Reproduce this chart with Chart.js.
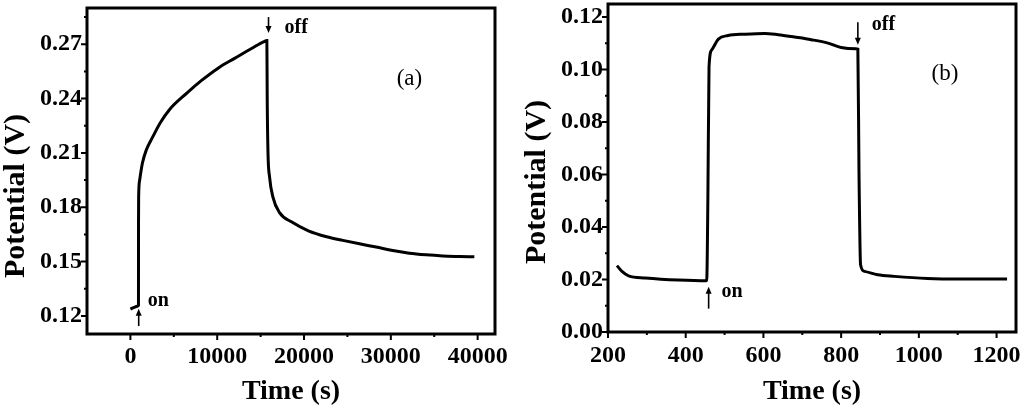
<!DOCTYPE html>
<html>
<head>
<meta charset="utf-8">
<script src="https://cdn.jsdelivr.net/npm/chart.js@4.4.1/dist/chart.umd.min.js"></script>
<style>
html, body { margin: 0; padding: 0; background: #fff; }
#wrap { position: relative; width: 1024px; height: 409px; }
canvas { position: absolute; top: 0; }
</style>
</head>
<body>
<div id="wrap">
  <canvas id="chartA" width="512" height="409" style="left:0"></canvas>
  <canvas id="chartB" width="512" height="409" style="left:512px"></canvas>
</div>
<script>
// panel (a) - long run, time in s, potential in V
const timeA = [0, 500, 900, 930, 935, 950, 1070, 1380, 1840, 2600, 3460, 4520, 6500, 8200, 10100, 12000, 14000, 15400, 15720,
  15760, 15850, 16030, 16410, 17180, 18600, 20500, 22600, 24470, 26390, 28310, 30220, 32140, 34060, 35970, 37890, 39620];
const potentialA = [0.1238, 0.1248, 0.1255, 0.1258, 0.1700, 0.1857, 0.1950, 0.2043, 0.2117, 0.2191, 0.2268, 0.2340, 0.2430, 0.2500, 0.2568, 0.2622, 0.2678, 0.2715, 0.2720,
  0.2400, 0.2100, 0.1968, 0.1857, 0.1770, 0.1718, 0.1670, 0.1637, 0.1617, 0.1598, 0.1580, 0.1561, 0.1546, 0.1537, 0.1531, 0.1528, 0.1526];

// panel (b) - short run
const timeB = [223, 236, 253, 296, 381, 454, 457, 460, 467, 484, 509, 552, 603, 638, 680, 723, 766, 800, 838, 843,
  846, 850, 860, 894, 937, 1022, 1108, 1227];
const potentialB = [0.0253, 0.0231, 0.0214, 0.0206, 0.0198, 0.0195, 0.0500, 0.1010, 0.1075, 0.1116, 0.1130, 0.1135, 0.1138, 0.1133, 0.1124, 0.1114, 0.1101, 0.1084, 0.1079, 0.1078,
  0.0600, 0.0256, 0.0231, 0.0218, 0.0212, 0.0204, 0.0202, 0.0202];

// tick labels
const xTicksA = [0, 10000, 20000, 30000, 40000];
const xMinorA = [5000, 15000, 25000, 35000];
const yTicksA = [0.12, 0.15, 0.18, 0.21, 0.24, 0.27];
const yMinorA = [0.135, 0.165, 0.195, 0.225, 0.255, 0.285];
const xTicksB = [200, 400, 600, 800, 1000, 1200];
const xMinorB = [300, 500, 700, 900, 1100];
const yTicksB = [0.00, 0.02, 0.04, 0.06, 0.08, 0.10, 0.12];
const yMinorB = [0.01, 0.03, 0.05, 0.07, 0.09, 0.11];

// on / off marks (data coords)
const notesA = [
  { text: 'off', x: 17760, y: 0.2789, bold: true, size: 20 },
  { text: 'on', x: 1990, y: 0.1283, bold: true, size: 20 },
  { text: '(a)', x: 32140, y: 0.2506, bold: false, size: 23 }
];
const arrowsA = [
  { x: 15910, from: 0.2850, to: 0.2762 },
  { x: 955, from: 0.1144, to: 0.1240 }
];
const notesB = [
  { text: 'off', x: 879, y: 0.1171, bold: true, size: 20 },
  { text: 'on', x: 492, y: 0.0154, bold: true, size: 20 },
  { text: '(b)', x: 1067, y: 0.0984, bold: false, size: 23 }
];
const arrowsB = [
  { x: 843, from: 0.1180, to: 0.1095 },
  { x: 459, from: 0.0089, to: 0.0172 }
];

const serif = '"Liberation Serif", "Times New Roman", serif';

// frame, tick marks, y title and the little arrows / labels
const frameTicks = {
  id: 'frameTicks',
  afterDatasetsDraw(chart, args, opts) {
    const ctx = chart.ctx;
    const a = chart.chartArea;
    const xs = chart.scales.x, ys = chart.scales.y;
    ctx.save();
    ctx.strokeStyle = '#000';
    ctx.fillStyle = '#000';
    ctx.lineWidth = 3;
    ctx.strokeRect(a.left, a.top, a.right - a.left, a.bottom - a.top);

    ctx.lineWidth = 2;
    ctx.beginPath();
    opts.xMajor.forEach(v => { const p = xs.getPixelForValue(v); ctx.moveTo(p, a.bottom); ctx.lineTo(p, a.bottom + 6); });
    opts.xMinor.forEach(v => { const p = xs.getPixelForValue(v); ctx.moveTo(p, a.bottom); ctx.lineTo(p, a.bottom + 3); });
    opts.yMajor.forEach(v => { const p = ys.getPixelForValue(v); ctx.moveTo(a.left, p); ctx.lineTo(a.left - 6, p); });
    opts.yMinor.forEach(v => { const p = ys.getPixelForValue(v); ctx.moveTo(a.left, p); ctx.lineTo(a.left - 3, p); });
    ctx.stroke();

    // y title (sits a bit below the middle in the original)
    ctx.save();
    ctx.translate(opts.yTitleX, opts.yTitleY);
    ctx.rotate(-Math.PI / 2);
    ctx.font = 'bold 30px ' + serif;
    ctx.textAlign = 'center';
    ctx.textBaseline = 'middle';
    ctx.fillText('Potential (V)', 0, 0);
    ctx.restore();

    // arrows
    ctx.lineWidth = 1.6;
    opts.arrows.forEach(ar => {
      const px = xs.getPixelForValue(ar.x);
      const p1 = ys.getPixelForValue(ar.from), p2 = ys.getPixelForValue(ar.to);
      const dir = p2 > p1 ? 1 : -1;
      ctx.beginPath();
      ctx.moveTo(px, p1);
      ctx.lineTo(px, p2 - dir * 4);
      ctx.stroke();
      ctx.beginPath();
      ctx.moveTo(px, p2);
      ctx.lineTo(px - 3, p2 - dir * 7);
      ctx.lineTo(px + 3, p2 - dir * 7);
      ctx.closePath();
      ctx.fill();
    });

    // texts
    ctx.textBaseline = 'middle';
    opts.notes.forEach(n => {
      ctx.font = (n.bold ? 'bold ' : '') + n.size + 'px ' + serif;
      ctx.textAlign = n.bold ? 'left' : 'center';
      ctx.fillText(n.text, xs.getPixelForValue(n.x), ys.getPixelForValue(n.y));
    });
    ctx.restore();
  }
};

function makeChart(id, times, values, cfg) {
  const points = times.map((t, i) => ({ x: t, y: values[i] }));
  return new Chart(document.getElementById(id), {
    type: 'line',
    data: {
      datasets: [{
        data: points,
        borderColor: '#000',
        borderWidth: 3,
        pointRadius: 0,
        fill: false,
        cubicInterpolationMode: 'monotone'
      }]
    },
    options: {
      responsive: false,
      animation: false,
      layout: { padding: cfg.padding },
      plugins: {
        legend: { display: false },
        tooltip: { enabled: false },
        frameTicks: {
          xMajor: cfg.xTicks, xMinor: cfg.xMinor,
          yMajor: cfg.yTicks, yMinor: cfg.yMinor,
          notes: cfg.notes, arrows: cfg.arrows,
          yTitleX: cfg.yTitleX, yTitleY: cfg.yTitleY
        }
      },
      scales: {
        x: {
          type: 'linear',
          min: cfg.xMin, max: cfg.xMax,
          afterBuildTicks: s => { s.ticks = cfg.xTicks.map(v => ({ value: v })); },
          afterFit: s => { s.height = cfg.xHeight; s.paddingLeft = 0; s.paddingRight = 0; },
          grid: { display: false, drawTicks: false, tickLength: 0 },
          border: { display: false },
          ticks: {
            color: '#000',
            padding: cfg.xPad,
            maxRotation: 0,
            autoSkip: false,
            font: { family: serif, size: 24, weight: 'bold' },
            callback: v => String(v)
          },
          title: { display: true, text: 'Time (s)', color: '#000', padding: 0, font: { family: serif, size: 28, weight: 'bold' } }
        },
        y: {
          min: cfg.yMin, max: cfg.yMax,
          afterBuildTicks: s => { s.ticks = cfg.yTicks.map(v => ({ value: v })); },
          afterFit: s => { s.width = cfg.yWidth; s.paddingTop = 0; s.paddingBottom = 0; },
          grid: { display: false, drawTicks: false, tickLength: 0 },
          border: { display: false },
          ticks: {
            color: '#000',
            padding: 5,
            autoSkip: false,
            font: { family: serif, size: 24, weight: 'bold' },
            callback: v => v.toFixed(2)
          },
          title: { display: false }
        }
      }
    },
    plugins: [frameTicks]
  });
}

makeChart('chartA', timeA, potentialA, {
  xMin: -5000, xMax: 42000, yMin: 0.11, yMax: 0.29,
  xTicks: xTicksA, xMinor: xMinorA, yTicks: yTicksA, yMinor: yMinorA,
  notes: notesA, arrows: arrowsA,
  padding: { left: 0, right: 17, top: 8, bottom: 0 },
  yWidth: 87, xHeight: 75, xPad: 8,
  yTitleX: 16, yTitleY: 196
});

makeChart('chartB', timeB, potentialB, {
  xMin: 200, xMax: 1250, yMin: 0, yMax: 0.125,
  xTicks: xTicksB, xMinor: xMinorB, yTicks: yTicksB, yMinor: yMinorB,
  notes: notesB, arrows: arrowsB,
  padding: { left: 8, right: 8, top: 4, bottom: 0 },
  yWidth: 88, xHeight: 77, xPad: 9,
  yTitleX: 25, yTitleY: 182
});
</script>
</body>
</html>
